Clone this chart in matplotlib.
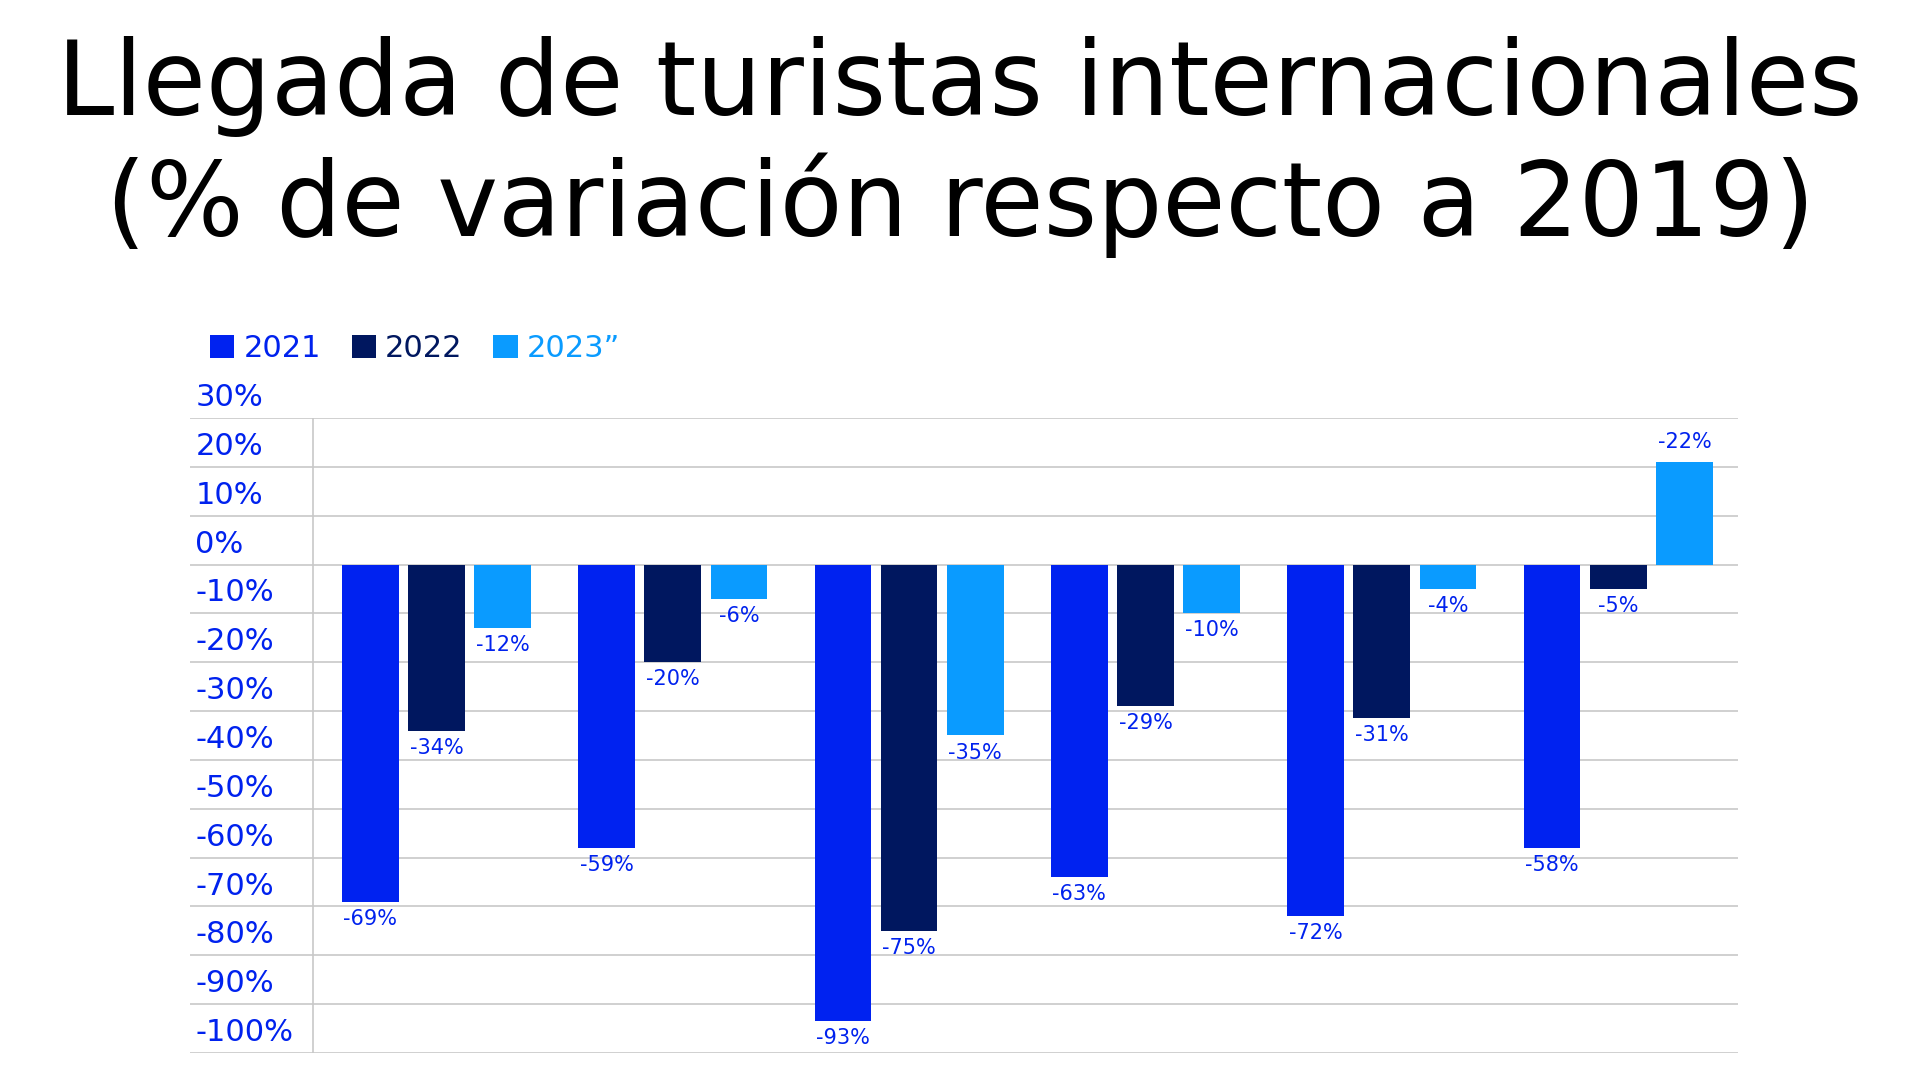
import matplotlib
matplotlib.use("Agg")
import matplotlib.pyplot as plt

series = ["2021", "2022", "2023\u201d"]
v2021 = [-69, -58, -93.5, -64, -72, -58]
v2022 = [-34, -20, -75, -29, -31.5, -5]
v2023 = [-13, -7, -35, -10, -5, 21]
lab2021 = ["-69%", "-59%", "-93%", "-63%", "-72%", "-58%"]
lab2022 = ["-34%", "-20%", "-75%", "-29%", "-31%", "-5%"]
lab2023 = ["-12%", "-6%", "-35%", "-10%", "-4%", "-22%"]
yticks = list(range(30, -101, -10))
colors = ["#0022F0", "#00175F", "#0A9BFF"]

fig = plt.figure(figsize=(19.2, 10.8), dpi=100)
fig.text(0.5, 0.92, "Llegada de turistas internacionales", ha="center", va="center", fontsize=74, family="DejaVu Sans")
fig.text(0.5, 0.81, "(% de variación respecto a 2019)", ha="center", va="center", fontsize=74, family="DejaVu Sans")

ax = fig.add_axes([0.099, 0.025, 0.806, 0.588])
ax.set_xlim(-1.042, 5.505)
ax.set_ylim(-100, 30)
for s in ax.spines.values():
    s.set_visible(False)
ax.set_xticks([]); ax.set_yticks([])
for t in yticks:
    ax.axhline(t, color="#C8C8C8", lw=1.2, zorder=0)
    ax.text(-1.02, t + 1.2, f"{t}%", color="#0022EE", fontsize=22, ha="left", va="bottom")
ax.axvline(-0.521, color="#C8C8C8", lw=1.2, zorder=0)

w, off = 0.24, 0.28
data = [v2021, v2022, v2023]
labs = [lab2021, lab2022, lab2023]
for k in range(3):
    xs = [i + (k - 1) * off for i in range(len(v2021))]
    ax.bar(xs, data[k], width=w, color=colors[k], zorder=2, label=series[k])
    for x, v, l in zip(xs, data[k], labs[k]):
        if v < 0:
            ax.text(x, v - 3.5, l, ha="center", va="center", color="#0022EE", fontsize=15)
        else:
            ax.text(x, v + 4, l, ha="center", va="center", color="#0022EE", fontsize=15)

leg = fig.legend(loc="center left", bbox_to_anchor=(0.095, 0.677), ncol=3, frameon=False,
                 fontsize=22, handlelength=0.8, handleheight=0.8, handletextpad=0.3, columnspacing=1.0)
for t, c in zip(leg.get_texts(), ["#0022EE", "#00175F", "#0A9BFF"]):
    t.set_color(c)
fig.savefig("out.png", dpi=100)
